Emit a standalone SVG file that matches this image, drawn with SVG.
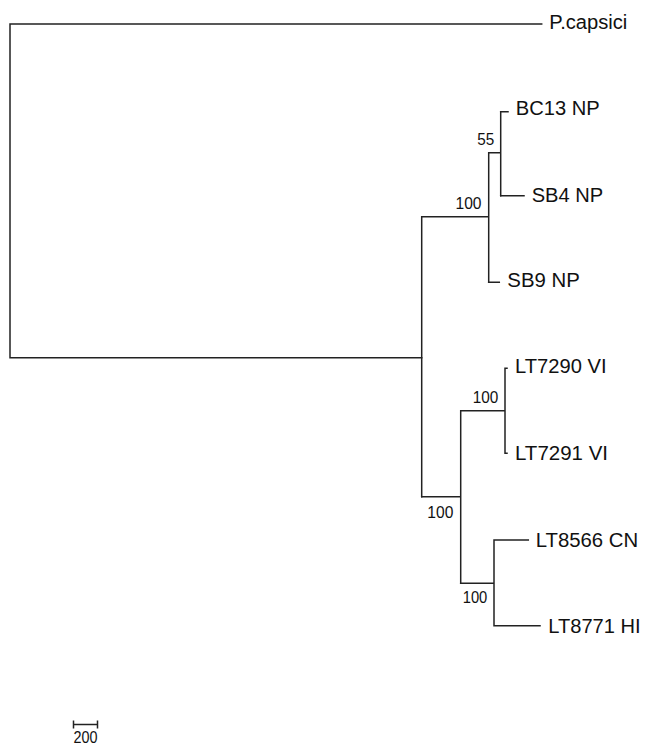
<svg xmlns="http://www.w3.org/2000/svg" width="646" height="747" viewBox="0 0 646 747">
<style>
.br{fill:none;stroke:#222;stroke-width:1.5;stroke-linecap:square}
.leaf{font-family:"Liberation Sans",Arial,sans-serif;font-size:19.5px;fill:#111}
.bs{font-family:"Liberation Sans",Arial,sans-serif;font-size:16.5px;fill:#111;text-anchor:end}
</style>
<rect width="646" height="747" fill="#fff"/>
<g id="connectors">
<path class="br" d="M10,24 V357.7 M10,24 H541.7 M10,357.7 H421.7"/>
<path class="br" d="M421.7,216.7 V496.7 M421.7,216.7 H488.7 M488.7,152.7 V282.3 M488.7,152.7 H500.7 M500.7,111.7 V195.7"/>
<path class="br" d="M500.7,111.7 H508 M500.7,195.7 H524 M488.7,282.3 H499.3"/>
<path class="br" d="M421.7,496.7 H460.7 M460.7,410.7 V583.3 M460.7,410.7 H505 M505,368.3 V453.3 M505,368.3 H507 M505,453.3 H507"/>
<path class="br" d="M460.7,583.3 H494 M494,540 V625.7 M494,540 H528.3 M494,625.7 H540"/>
</g>
<g id="P_capsici"><text class="leaf" x="549.3" y="29" textLength="78" lengthAdjust="spacingAndGlyphs">P.capsici</text></g>
<g id="BC13_NP"><text class="leaf" x="515.7" y="115.3" textLength="84" lengthAdjust="spacingAndGlyphs">BC13 NP</text></g>
<g id="SB4_NP"><text class="leaf" x="531.7" y="201.5" textLength="71.5" lengthAdjust="spacingAndGlyphs">SB4 NP</text></g>
<g id="SB9_NP"><text class="leaf" x="507.3" y="287.3" textLength="72.5" lengthAdjust="spacingAndGlyphs">SB9 NP</text></g>
<g id="LT7290_VI"><text class="leaf" x="515" y="373.3" textLength="91.5" lengthAdjust="spacingAndGlyphs">LT7290 VI</text></g>
<g id="LT7291_VI"><text class="leaf" x="515" y="460" textLength="93" lengthAdjust="spacingAndGlyphs">LT7291 VI</text></g>
<g id="LT8566_CN"><text class="leaf" x="535.7" y="547.3" textLength="102.5" lengthAdjust="spacingAndGlyphs">LT8566 CN</text></g>
<g id="LT8771_HI"><text class="leaf" x="548.3" y="632.7" textLength="92.3" lengthAdjust="spacingAndGlyphs">LT8771 HI</text></g>
<g id="bootstrap">
<text class="bs" x="494.3" y="145" textLength="17" lengthAdjust="spacingAndGlyphs">55</text>
<text class="bs" x="481.5" y="209.3" textLength="26" lengthAdjust="spacingAndGlyphs">100</text>
<text class="bs" x="498.3" y="403.3" textLength="25.6" lengthAdjust="spacingAndGlyphs">100</text>
<text class="bs" x="453.3" y="518.3" textLength="26" lengthAdjust="spacingAndGlyphs">100</text>
<text class="bs" x="487.3" y="603.3" textLength="24.6" lengthAdjust="spacingAndGlyphs">100</text>
</g>
<g id="scale">
<path class="br" d="M73.5,724.5 H97.5 M73.5,720.5 V728.5 M97.5,720.5 V728.5" style="stroke-linecap:butt"/>
<text class="bs" x="97.5" y="743" textLength="24" lengthAdjust="spacingAndGlyphs" style="text-anchor:end">200</text>
</g>
</svg>
